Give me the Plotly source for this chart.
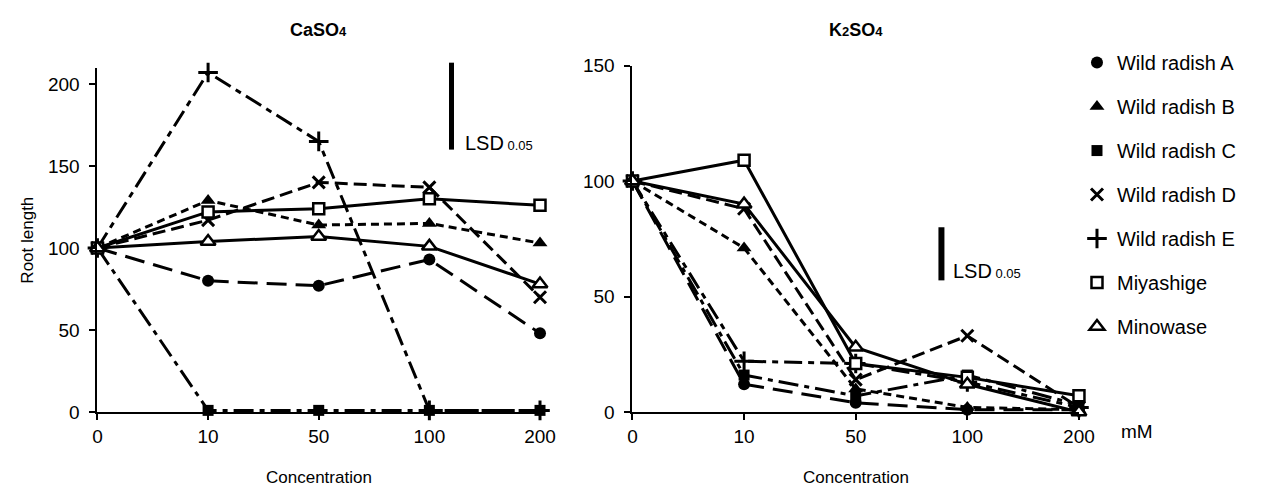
import plotly.graph_objects as go

# Concentration steps (mM) shared by both salts
concentrations = ["0", "10", "50", "100", "200"]

series_names = ["Wild radish A", "Wild radish B", "Wild radish C", "Wild radish D",
                "Wild radish E", "Miyashige", "Minowase"]

# Relative root length (% of control), CaSO4
caso4_a = [100, 80, 77, 93, 48]
caso4_b = [100, 129, 114, 115, 103]
caso4_c = [100, 1, 1, 1, 1]
caso4_d = [100, 117, 140, 137, 70]
caso4_e = [100, 207, 165, 1, 1]
caso4_miyashige = [100, 122, 124, 130, 126]
caso4_minowase = [100, 104, 107, 101, 78]

# Relative root length (% of control), K2SO4
k2so4_a = [100, 12, 4, 1, 1]
k2so4_b = [100, 71, 10, 2, 1]
k2so4_c = [100, 16, 7, 16, 3]
k2so4_d = [100, 88, 14, 33, 2]
k2so4_e = [100, 22, 21, 13, 2]
k2so4_miyashige = [100, 109, 21, 15, 7]
k2so4_minowase = [100, 90, 28, 12, 0]

# LSD(0.05) bars: (lower end, length) in root-length units
lsd_caso4 = (160, 53)
lsd_k2so4 = (57, 23)

caso4 = [caso4_a, caso4_b, caso4_c, caso4_d, caso4_e, caso4_miyashige, caso4_minowase]
k2so4 = [k2so4_a, k2so4_b, k2so4_c, k2so4_d, k2so4_e, k2so4_miyashige, k2so4_minowase]

W, H = 1271, 504
FONT = "Liberation Sans, Arial, sans-serif"
BLACK = "#000000"

styles = {
    "Wild radish A": dict(symbol="circle", size=12, fill=BLACK, lw=0, dash="20px,9px"),
    "Wild radish B": dict(symbol="triangle-up", size=13, fill=BLACK, lw=0, dash="8px,5px"),
    "Wild radish C": dict(symbol="square", size=11, fill=BLACK, lw=0, dash="20px,6px,5px,6px"),
    "Wild radish D": dict(symbol="x-thin", size=12, fill=BLACK, lw=3, dash="13px,6px"),
    "Wild radish E": dict(symbol="cross-thin", size=14, fill=BLACK, lw=3, dash="18px,6px,6px,6px"),
    "Miyashige": dict(symbol="square", size=11, fill="white", lw=2.5, dash="solid"),
    "Minowase": dict(symbol="triangle-up", size=13, fill="white", lw=2.5, dash="solid"),
}

# Pixel layout of the two panels
x_left = (94 / W, 544 / W)
x_right = (638 / W, 1092 / W)
y_bottom = (H - 419.5) / H
y_left_top = (H - 60.1) / H
y_right_top = (H - 58) / H
Y_LEFT_MAX = 210
Y_RIGHT_MAX = 150

fig = go.Figure()


def marker_of(st):
    return dict(symbol=st["symbol"], size=st["size"], color=st["fill"],
                line=dict(color=BLACK, width=st["lw"]))


for values_set, xa, ya in ((caso4, "x", "y"), (k2so4, "x2", "y2")):
    for name, vals in zip(series_names, values_set):
        st = styles[name]
        fig.add_trace(go.Scatter(
            x=concentrations, y=vals, mode="lines+markers", name=name,
            xaxis=xa, yaxis=ya, showlegend=False, legendgroup=name,
            cliponaxis=False,
            line=dict(color=BLACK, width=3, dash=st["dash"]),
            marker=marker_of(st),
        ))

# Legend entries: marker symbols only
for name in series_names:
    st = styles[name]
    fig.add_trace(go.Scatter(
        x=[None], y=[None], mode="markers", name=name, legendgroup=name,
        showlegend=True, marker=marker_of(st), xaxis="x", yaxis="y",
    ))

axis_common = dict(
    showline=True, linecolor=BLACK, linewidth=2, ticks="outside", ticklen=6,
    tickwidth=2, tickcolor=BLACK, showgrid=False, zeroline=False,
    tickfont=dict(family=FONT, size=19, color=BLACK),
)

fig.update_layout(
    width=W, height=H, margin=dict(l=0, r=0, t=0, b=0),
    paper_bgcolor="white", plot_bgcolor="white",
    font=dict(family=FONT, size=18, color=BLACK),
    xaxis=dict(domain=list(x_left), type="category", range=[0, 4], anchor="y",
               **axis_common),
    yaxis=dict(domain=[y_bottom, y_left_top], range=[0, Y_LEFT_MAX], anchor="x",
               tickvals=[0, 50, 100, 150, 200], ticklabelstandoff=6, **axis_common),
    xaxis2=dict(domain=list(x_right), type="category", range=[0, 4], anchor="y2",
                **axis_common),
    yaxis2=dict(domain=[y_bottom, y_right_top], range=[0, Y_RIGHT_MAX], anchor="x2",
                tickvals=[0, 50, 100, 150], ticklabelstandoff=6, **axis_common),
    legend=dict(x=1090 / W, y=(H - 34.5) / H, xanchor="left", yanchor="top",
                font=dict(family=FONT, size=20, color=BLACK),
                tracegroupgap=15, itemwidth=30, bgcolor="rgba(0,0,0,0)"),
    showlegend=True,
)

# LSD bars, positioned within each panel's domain
for (base, length), xref, yref, xfrac, ymax, bar_w in (
        (lsd_caso4, "x domain", "y domain", 0.8, Y_LEFT_MAX, 5),
        (lsd_k2so4, "x2 domain", "y2 domain", 0.692, Y_RIGHT_MAX, 6)):
    fig.add_shape(type="line", xref=xref, yref=yref, x0=xfrac, x1=xfrac,
                  y0=base / ymax, y1=(base + length) / ymax,
                  line=dict(color=BLACK, width=bar_w))

lsd_text = "LSD<span style='font-size:13px'> 0.05</span>"
fig.add_annotation(text=lsd_text, xref="paper", yref="paper", x=466 / W,
                   y=(H - 139) / H, xanchor="left", yanchor="middle",
                   showarrow=False, font=dict(family=FONT, size=20, color=BLACK))
fig.add_annotation(text=lsd_text, xref="paper", yref="paper", x=962 / W,
                   y=(H - 272) / H, xanchor="left", yanchor="middle",
                   showarrow=False, font=dict(family=FONT, size=20, color=BLACK))

# Panel titles
fig.add_annotation(text="<b>CaSO<span style='font-size:13px'>4</span></b>",
                   xref="x domain", yref="paper", x=0.5, y=(H - 21) / H,
                   xanchor="center", yanchor="middle", showarrow=False,
                   font=dict(family=FONT, size=18, color=BLACK))
fig.add_annotation(text="<b>K<span style='font-size:13px'>2</span>SO<span style='font-size:13px'>4</span></b>",
                   xref="x2 domain", yref="paper", x=0.5, y=(H - 21) / H,
                   xanchor="center", yanchor="middle", showarrow=False,
                   font=dict(family=FONT, size=18, color=BLACK))

# Axis titles
fig.add_annotation(text="Root length", xref="paper", yref="paper", x=22 / W,
                   y=(H - 240) / H, textangle=-90, xanchor="center",
                   yanchor="middle", showarrow=False,
                   font=dict(family=FONT, size=17, color=BLACK))
for xref in ("x domain", "x2 domain"):
    fig.add_annotation(text="Concentration", xref=xref, yref="paper", x=0.5,
                       y=(H - 488) / H, xanchor="center", yanchor="middle",
                       showarrow=False, font=dict(family=FONT, size=17, color=BLACK))
fig.add_annotation(text="mM", xref="paper", yref="paper", x=1133 / W,
                   y=(H - 440) / H, xanchor="left", yanchor="middle",
                   showarrow=False, font=dict(family=FONT, size=19, color=BLACK))

fig.write_html("out.html")
